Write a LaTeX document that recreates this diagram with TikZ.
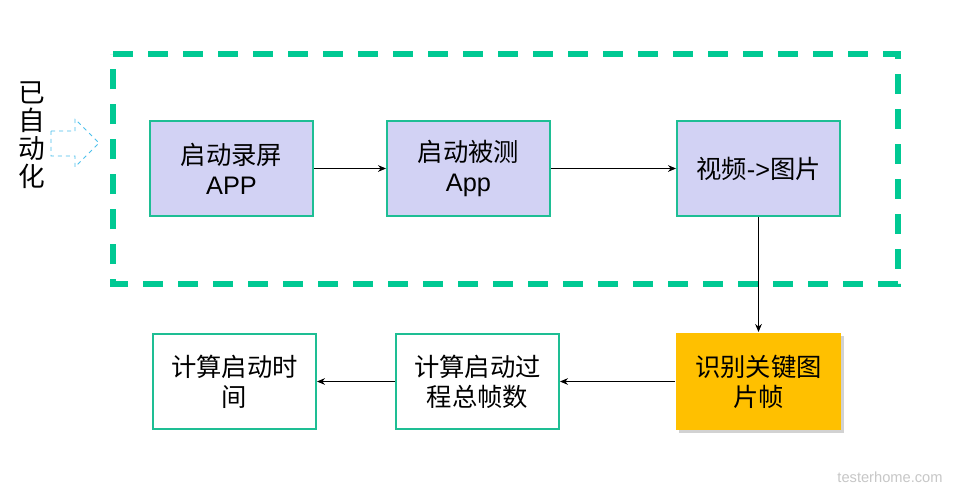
\documentclass[tikz,border=0pt]{standalone}
\usepackage{fontspec}
\setmainfont{Liberation Sans}
\newfontfamily\cjk{Noto Sans CJK SC}
\usetikzlibrary{arrows.meta,shadows}
\definecolor{grn}{HTML}{00C993}
\definecolor{bgrn}{HTML}{1EBE94}
\definecolor{lav}{HTML}{D2D2F4}
\definecolor{org}{HTML}{FFC000}
\definecolor{lblue}{HTML}{4CC0EC}
\begin{document}
\begin{tikzpicture}[x=0.75pt,y=-0.75pt,
  box/.style={draw=bgrn,line width=1.5pt,minimum width=122.25pt,minimum height=71.25pt,inner sep=0pt,align=center,font=\cjk\fontsize{19}{22.5}\selectfont,anchor=north west},
  arr/.style={-{Stealth[length=6pt,width=5pt]},line width=0.6pt}]
\useasboundingbox (0,0) rectangle (960,496);
\fill[white] (0,0) rectangle (960,496);
\draw[grn,line width=3.8pt,dash pattern=on 15pt off 11.25pt] (113,54) -- (898,54) -- (898,284) -- (113,284) -- cycle;
\node[box,fill=lav] (b1) at (149,120) {启动录屏\\\rmfamily APP};
\node[box,fill=lav] (b2) at (386,120) {启动被测\\\rmfamily App};
\node[box,fill=lav] (b3) at (676,120) {视频{\rmfamily ->}图片};
\node[box,draw=none,fill=org,minimum width=123.75pt,minimum height=72.75pt,drop shadow={shadow xshift=2pt,shadow yshift=-2pt,opacity=0.35}] (b4) at (675,332) {识别关键图\\片帧};
\node[box,fill=white] (b5) at (395,333) {计算启动过\\程总帧数};
\node[box,fill=white] (b6) at (152,333) {计算启动时\\间};
\draw[arr] (b1.east) -- (b2.west);
\draw[arr] (b2.east) -- (b3.west);
\draw[arr] (b3.south) -- (b4.north);
\draw[arr] (b4.west) -- (b5.east);
\draw[arr] (b5.west) -- (b6.east);
\node[align=center,font=\cjk\fontsize{20}{21}\selectfont,inner sep=0pt] (lbl) at (32,135) {已\\自\\动\\化};
\draw[lblue,dashed,line width=0.7pt] (51,131) -- (75,131) -- (75,119) -- (99,143) -- (75,167) -- (75,156) -- (51,156) -- cycle;
\node[font=\fontsize{11}{13}\selectfont,text=black!22] (wm) at (890,477) {testerhome.com};
\end{tikzpicture}
\end{document}
